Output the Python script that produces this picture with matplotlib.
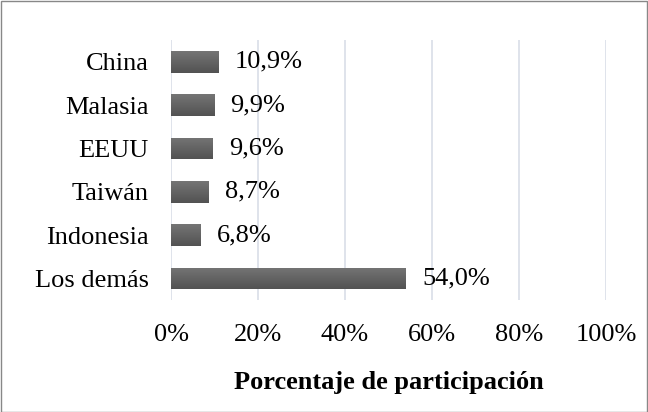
import matplotlib
matplotlib.use("Agg")
import matplotlib.pyplot as plt
import numpy as np
from matplotlib.patches import Rectangle
from matplotlib.colors import LinearSegmentedColormap

categories = ["Los demás", "Indonesia", "Taiwán", "EEUU", "Malasia", "China"]
values = [54.0, 6.8, 8.7, 9.6, 9.9, 10.9]
xticks = [0, 20, 40, 60, 80, 100]
xlabel = "Porcentaje de participación"

plt.rcParams['font.family'] = ['Liberation Serif', 'DejaVu Serif']
FS = 19

fig = plt.figure(figsize=(6.48, 4.12), dpi=100)
ax = fig.add_axes([0.2639, 0.2718, 0.6713, 0.6311])

cmap = LinearSegmentedColormap.from_list('g', ['#525252', '#757575'])
grad = np.linspace(0, 1, 64).reshape(-1, 1)

y = list(range(len(categories)))
bars = ax.barh(y, values, height=0.5, color='#616161', zorder=3)
for b, v in zip(bars, values):
    x0, y0, w, h = b.get_x(), b.get_y(), b.get_width(), b.get_height()
    im = ax.imshow(grad, cmap=cmap, aspect='auto', origin='lower',
                   extent=(x0, x0 + w, y0, y0 + h), zorder=4)
    im.set_clip_path(b)
    ax.annotate(f"{v:.1f}%".replace('.', ','), (w, y0 + h / 2),
                xytext=(16, 0), textcoords='offset pixels',
                va='center', ha='left', fontsize=FS, color='#000000')

ax.set_xlim(0, 100)
ax.set_ylim(-0.5, len(categories) - 0.5)
ax.set_xticks(xticks)
ax.set_xticklabels([f"{t}%" for t in xticks], fontsize=FS)
ax.set_yticks(y)
ax.set_yticklabels(categories, fontsize=FS)
ax.tick_params(axis='y', length=0, pad=16)
ax.tick_params(axis='x', length=0, pad=17)
ax.xaxis.grid(True, color='#d9dee8', linewidth=1.2, zorder=0)
for s in ax.spines.values():
    s.set_visible(False)
ax.set_xlabel(xlabel, fontsize=FS, fontweight='bold', labelpad=18)

fig.patches.append(Rectangle((0.5 / 648, 0.5 / 412), 1 - 1.5 / 648, 1 - 1.5 / 412,
                             transform=fig.transFigure, fill=False, edgecolor='#888888', linewidth=1))

fig.savefig('out.png', dpi=100)
